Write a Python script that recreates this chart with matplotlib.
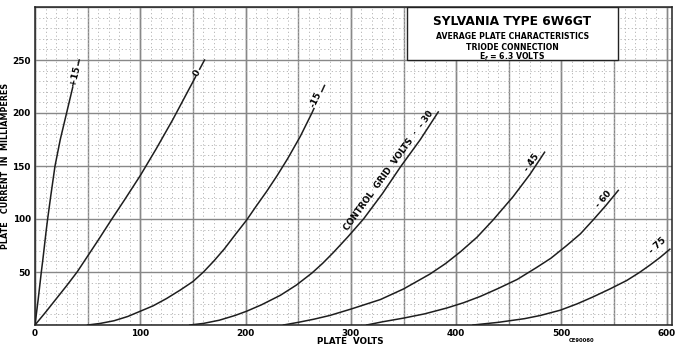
import numpy as np
import matplotlib.pyplot as plt
import matplotlib.patches as mpatches

plt.rcParams["font.family"] = ["DejaVu Sans"]
plt.rcParams["font.weight"] = "bold"

# ── data (plate volts / plate mA) ─────────────────────────────────
grid_labels = ["+15", "0", "-15", "-30", "-45", "-60", "-75"]

v_p15 = [0, 1, 2, 3, 4.5, 6, 7.5, 9, 10.5, 12, 15, 19, 24, 30, 36, 42]
i_p15 = [0, 8, 16, 24, 37, 50, 62, 75, 88, 100, 122, 150, 175, 200, 225, 250]

v_0 = [0, 10, 20, 30, 40, 50, 60, 73, 85, 100, 115, 131, 146, 161]
i_0 = [0, 12, 24.5, 37, 50, 65, 80, 100, 118, 141, 166, 194, 222, 250]

v_m15 = [50, 62, 75, 88, 100, 112, 125, 138, 150, 160, 170, 180, 190, 201,
         210, 220, 230, 240, 252, 263, 275]
i_m15 = [0, 1.5, 4, 8, 13, 18, 25, 33, 41, 50, 60.5, 72, 85, 99,
         112, 126, 141, 157, 178, 200, 226]

v_m30 = [147, 160, 175, 190, 201, 215, 233, 248, 263, 273, 283, 297, 312,
         330, 347, 366, 383]
i_m30 = [0, 1.5, 4.5, 9, 13, 19, 28, 37.5, 49, 58, 68, 83, 100,
         124, 149, 175, 201]

v_m45 = [236, 250, 265, 280, 300, 328, 350, 375, 390, 404, 420, 435, 454, 470, 484]
i_m45 = [0, 2.5, 5.5, 9, 15, 24, 34, 48, 58, 69, 83, 99, 121, 142, 163]

v_m60 = [315, 330, 350, 370, 391, 407, 423, 440, 458, 476, 490, 505, 518, 530, 542, 554]
i_m60 = [0, 3, 6.5, 10.5, 16, 21, 27, 34.5, 43, 54, 63, 75, 86, 99, 112.5, 127]

v_m75 = [416, 440, 465, 480, 499, 515, 530, 546, 562, 574, 584, 594, 603]
i_m75 = [0, 2.5, 6, 9, 14, 20, 26.5, 34, 42, 49.5, 56.5, 64, 71.5]

curves_v = [v_p15, v_0, v_m15, v_m30, v_m45, v_m60, v_m75]
curves_i = [i_p15, i_0, i_m15, i_m30, i_m45, i_m60, i_m75]

x_ticks = [0, 100, 200, 300, 400, 500, 600]
y_ticks = [0, 50, 100, 150, 200, 250, 300]
y_tick_labels = ["", "50", "100", "150", "200", "250", ""]

title_lines = ["SYLVANIA TYPE 6W6GT", "AVERAGE PLATE CHARACTERISTICS",
               "TRIODE CONNECTION", "E$_f$ = 6.3 VOLTS"]

# ── figure ────────────────────────────────────────────────────────
fig = plt.figure(figsize=(6.76, 3.55), dpi=100)
ax = fig.add_axes([35 / 676, 1 - 325 / 355, 637 / 676, 318 / 355])
ax.set_xlim(0, 605)
ax.set_ylim(0, 300)

# graph-paper grid
ax.set_xticks(x_ticks)
ax.set_yticks(y_ticks)
ax.set_xticks(np.arange(0, 605, 10), minor=True)
ax.set_yticks(np.arange(0, 301, 10), minor=True)
ax.grid(which="major", color="#888888", lw=1.0)
ax.grid(which="minor", color="#b0b0b0", lw=0.6, linestyle=(0, (1.5, 3)))
for xv in np.arange(0, 605, 50):
    ax.axvline(xv, color="#888888", lw=1.0, zorder=0.5)
ax.set_axisbelow(True)

ax.tick_params(which="both", length=0)
ax.tick_params(axis="x", pad=3, labelsize=6.4)
ax.tick_params(axis="y", pad=3, labelsize=6.4)
ax.set_yticklabels(y_tick_labels)
for s in ax.spines.values():
    s.set_color("#222222")
    s.set_linewidth(1.1)

# curves
for v, i in zip(curves_v, curves_i):
    ax.plot(v, i, color="#1e1e1e", lw=1.1, zorder=3)

# curve labels
lab_style = dict(fontsize=6.5, fontweight="bold", ha="center", va="center", zorder=4)
box = dict(facecolor="white", edgecolor="none", pad=0.3)
ax.text(38, 235, grid_labels[0], rotation=76, bbox=box, **lab_style)
ax.text(154, 238, grid_labels[1], rotation=60, bbox=box, **lab_style)
ax.text(267, 213, grid_labels[2], rotation=64, bbox=box, **lab_style)
ax.text(336, 146, "CONTROL  GRID  VOLTS  ·  - 30", rotation=54,
        fontsize=6.2, fontweight="bold", ha="center", va="center", zorder=4)
ax.text(472, 153, "- 45", rotation=54, **lab_style)
ax.text(540, 119, "- 60", rotation=48, **lab_style)
ax.text(591, 75, "- 75", rotation=42, **lab_style)

# title box
ax.add_patch(mpatches.Rectangle((0.584, 0.833), 0.331, 0.167, transform=ax.transAxes,
                                facecolor="white", edgecolor="#222222", lw=1.0, zorder=5))
tx = 0.749
ax.text(tx, 0.955, title_lines[0], transform=ax.transAxes, ha="center", va="center",
        fontsize=8.8, fontweight="bold", zorder=6)
ax.text(tx, 0.907, title_lines[1], transform=ax.transAxes, ha="center", va="center",
        fontsize=5.6, fontweight="bold", zorder=6)
ax.text(tx, 0.872, title_lines[2], transform=ax.transAxes, ha="center", va="center",
        fontsize=5.6, fontweight="bold", zorder=6)
ax.text(tx, 0.842, title_lines[3], transform=ax.transAxes, ha="center", va="center",
        fontsize=5.6, fontweight="bold", zorder=6)

# axis titles
fig.text(350 / 676, 1 - 342 / 355, "PLATE  VOLTS", ha="center", va="center",
         fontsize=6.3, fontweight="bold")
fig.text(6 / 676, 1 - 166 / 355, "PLATE   CURRENT  IN  MILLIAMPERES", rotation=90,
         ha="center", va="center", fontsize=5.8, fontweight="bold")
fig.text(582 / 676, 1 - 341 / 355, "CE90060", ha="center", va="center",
         fontsize=3.8, fontweight="bold")

fig.savefig("out.png", dpi=100)
